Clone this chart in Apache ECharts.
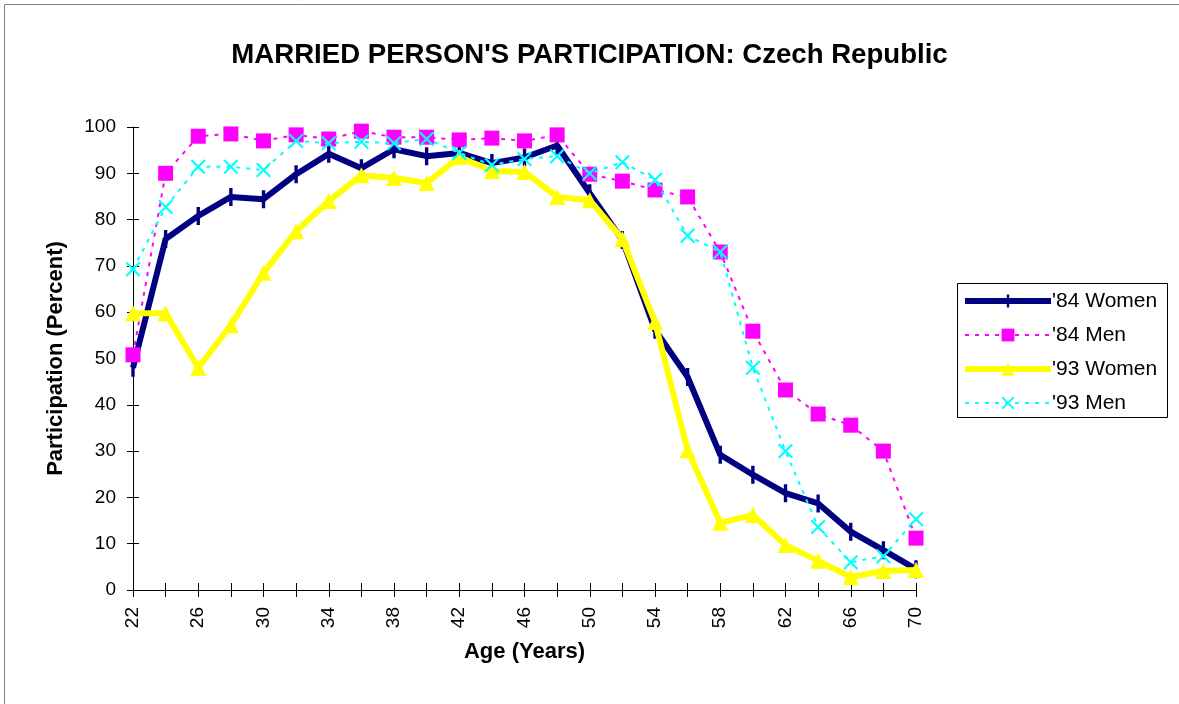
<!DOCTYPE html>
<html>
<head>
<meta charset="utf-8">
<script src="https://cdn.jsdelivr.net/npm/echarts@6/dist/echarts.min.js"></script>
<style>html,body{margin:0;padding:0;background:#fff}#c{width:1179px;height:704px}</style>
</head>
<body>
<div id="c"></div>
<script>
var ages = ['22','24','26','28','30','32','34','36','38','40','42','44','46','48','50','52','54','56','58','60','62','64','66','68','70'];
var yTicks = [0,10,20,30,40,50,60,70,80,90,100];
var women84 = [48,75.8,80.8,84.9,84.4,89.8,94.2,91.1,95.2,93.7,94.4,92.2,93.4,96,85.7,75.6,56.2,46,29.2,24.9,20.9,18.7,12.6,8.6,4.5];
var men84 = [50.8,90,98,98.5,97,98.3,97.4,99.1,97.8,97.8,97.2,97.6,97,98.3,89.8,88.3,86.4,84.9,73,55.9,43.2,38,35.6,30,11.2];
var women93 = [59.8,59.8,48,57.2,68.5,77.5,84,89.6,89,87.9,93.5,90.5,90.3,84.9,84.2,75.8,57.9,30.2,14.5,16.2,9.7,6.3,2.8,4.1,4.3];
var men93 = [69.3,82.7,91.4,91.4,90.7,97,96.5,96.8,96.5,97.4,94.4,91.8,93.1,93.7,90,92.4,88.6,76.5,73,48,30,13.6,6,7.3,15.3];

var FONT = 'Liberation Sans, Arial, sans-serif';
var crossPath = 'path://M2,0 L10,8 L18,0 L20,2 L12,10 L20,18 L18,20 L10,12 L2,20 L0,18 L8,10 L0,2 Z';
var barPath = 'path://M0,0 L0.01,0 L0,0.01 Z M16,16 L15.99,16 L16,15.99 Z M6.5,0 L9.5,0 L9.5,16 L6.5,16 Z';

var chart = echarts.init(document.getElementById('c'));
var axisLine = {show:true, onZero:false, lineStyle:{color:'#000', width:1}};
var option = {
  backgroundColor:'#fff',
  animation:false,
  title:{
    text:"MARRIED PERSON'S PARTICIPATION: Czech Republic",
    left:'center', top:36,
    textStyle:{fontFamily:FONT, fontSize:27.6, fontWeight:'bold', color:'#000'}
  },
  grid:{left:133, right:263, top:127, bottom:114, containLabel:false},
  legend:{
    orient:'vertical', left:962, top:289,
    itemWidth:86, itemHeight:16, itemGap:10, padding:0,
    lineStyle:{width:'inherit'},
    textStyle:{fontFamily:FONT, fontSize:21, lineHeight:24, color:'#000', padding:[0,0,0,-4]},
    data:["'84 Women","'84 Men","'93 Women","'93 Men"]
  },
  graphic:[
    {type:'rect', shape:{x:4.5,y:4.5,width:1180,height:705}, style:{fill:'none', stroke:'#808080', lineWidth:1}, silent:true},
    {type:'rect', shape:{x:957.5,y:283.5,width:210,height:134}, style:{fill:'none', stroke:'#000', lineWidth:1}, silent:true}
  ],
  xAxis:[{
    type:'category', data:ages, boundaryGap:false,
    name:'Age (Years)', nameLocation:'middle', nameGap:51,
    nameTextStyle:{fontFamily:FONT, fontSize:22, fontWeight:'bold', color:'#000'},
    axisLine:axisLine,
    axisTick:{show:true, interval:0, length:7, lineStyle:{color:'#000'}},
    axisLabel:{interval:1, rotate:90, margin:17, fontFamily:FONT, fontSize:19, color:'#000'},
    splitLine:{show:false}
  },{
    type:'category', data:ages, boundaryGap:false, position:'bottom',
    axisLine:{show:false},
    axisTick:{show:true, inside:true, interval:0, length:7, lineStyle:{color:'#000'}},
    axisLabel:{show:false}, splitLine:{show:false}
  }],
  yAxis:[{
    type:'value', min:0, max:100, interval:10,
    name:'Participation (Percent)', nameLocation:'middle', nameGap:66,
    nameTextStyle:{fontFamily:FONT, fontSize:22, fontWeight:'bold', color:'#000'},
    axisLine:axisLine,
    axisTick:{show:true, length:6, lineStyle:{color:'#000'}},
    axisLabel:{margin:17, fontFamily:FONT, fontSize:19, color:'#000',
      formatter:function(v){return yTicks.indexOf(v)>=0 ? String(v) : '';}},
    splitLine:{show:false}
  },{
    type:'value', min:0, max:100, interval:10, position:'left',
    axisLine:{show:false},
    axisTick:{show:true, inside:true, length:6, lineStyle:{color:'#000'}},
    axisLabel:{show:false}, splitLine:{show:false}
  }],
  series:[
    {name:"'84 Women", type:'line', data:women84, z:3,
      lineStyle:{color:'#000080', width:6},
      itemStyle:{color:'#000080'},
      symbol:barPath, symbolSize:18, showAllSymbol:true},
    {name:"'84 Men", type:'line', data:men84, z:4,
      lineStyle:{color:'#FF00FF', width:2, type:[4,6]},
      itemStyle:{color:'#FF00FF'},
      symbol:'rect', symbolSize:15, showAllSymbol:true},
    {name:"'93 Women", type:'line', data:women93, z:5,
      lineStyle:{color:'#FFFF00', width:6},
      itemStyle:{color:'#FFFF00'},
      symbol:'triangle', symbolSize:16, showAllSymbol:true},
    {name:"'93 Men", type:'line', data:men93, z:6,
      lineStyle:{color:'#00FFFF', width:2, type:[4,6]},
      itemStyle:{color:'#00FFFF'},
      symbol:crossPath, symbolSize:15, showAllSymbol:true}
  ]
};
chart.setOption(option);
</script>
</body>
</html>
